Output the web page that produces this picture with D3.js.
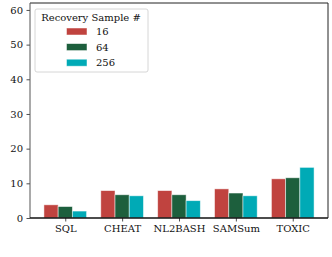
<!DOCTYPE html>
<html>
<head>
<meta charset="utf-8">
<script src="https://cdn.jsdelivr.net/npm/d3@7"></script>
<style>
  body { margin: 0; background: #fff; }
  text { font-family: 'DejaVu Serif', serif; }
</style>
</head>
<body>
<div id="chart"></div>
<script>
const categories = ["SQL", "CHEAT", "NL2BASH", "SAMSum", "TOXIC"];
const seriesNames = ["16", "64", "256"];
const values16 = [3.8, 7.9, 7.9, 8.4, 11.3];
const values64 = [3.3, 6.7, 6.7, 7.2, 11.6];
const values256 = [2.0, 6.4, 5.0, 6.4, 14.6];
const yTicks = [0, 10, 20, 30, 40, 50, 60];
const colors = ["#c0433f", "#1d5f3d", "#00aab6"];

const series = [values16, values64, values256];

const width = 332, height = 257;
const margin = { left: 30, right: 4, top: 3, bottom: 39 };

const svg = d3.select("#chart").append("svg")
  .attr("width", width)
  .attr("height", height);

// numeric x like matplotlib: group i at i, bar width 0.25
const x = d3.scaleLinear()
  .domain([-0.62, categories.length - 1 + 0.62])
  .range([margin.left, width - margin.right]);
const y = d3.scaleLinear()
  .domain([0, 62])
  .range([height - margin.bottom, margin.top]);

const barW = 0.25;

// bars
series.forEach(function(vals, s) {
  svg.append("g").selectAll("rect")
    .data(vals)
    .enter().append("rect")
    .attr("x", (d, i) => x(i + (s - 1) * barW - barW / 2))
    .attr("width", x(barW) - x(0))
    .attr("y", d => y(d))
    .attr("height", d => y(0) - y(d))
    .style("fill", colors[s])
    .style("stroke", "#fff")
    .style("stroke-opacity", 0.6)
    .style("stroke-width", 0.8);
});

// axes
const xAxis = d3.axisBottom(x)
  .tickValues(d3.range(categories.length))
  .tickFormat(i => categories[i])
  .tickSize(3.5)
  .tickPadding(3.5);
const yAxis = d3.axisLeft(y)
  .tickValues(yTicks)
  .tickSize(3.5)
  .tickPadding(3.5);

const gx = svg.append("g")
  .attr("transform", "translate(0," + y(0) + ")")
  .call(xAxis);
const gy = svg.append("g")
  .attr("transform", "translate(" + margin.left + ",0)")
  .call(yAxis);

[gx, gy].forEach(g => {
  g.attr("font-family", null);
  g.select(".domain").remove();
  g.selectAll("text").style("font-size", "10px").style("fill", "#111");
  g.selectAll("line").style("stroke", "#222").style("stroke-width", 0.8);
});

// frame
const x0 = margin.left, x1 = width - margin.right;
const y0 = margin.top, y1 = height - margin.bottom;
svg.append("line").attr("x1", x0).attr("x2", x1).attr("y1", y0).attr("y2", y0)
  .style("stroke", "#222").style("stroke-width", 1);
svg.append("line").attr("x1", x1).attr("x2", x1).attr("y1", y0).attr("y2", y1)
  .style("stroke", "#222").style("stroke-width", 1);
svg.append("line").attr("x1", x0).attr("x2", x0).attr("y1", y0).attr("y2", y1)
  .style("stroke", "#555").style("stroke-width", 1);
svg.append("line").attr("x1", x0).attr("x2", x1).attr("y1", y1).attr("y2", y1)
  .style("stroke", "#111").style("stroke-width", 1.3);

// legend
const lg = svg.append("g");
lg.append("rect")
  .attr("x", 35).attr("y", 9)
  .attr("width", 113).attr("height", 63)
  .attr("rx", 2)
  .style("fill", "#fff").style("fill-opacity", 0.8)
  .style("stroke", "#ccc").style("stroke-width", 0.8);
lg.append("text")
  .attr("x", 91).attr("y", 20.5)
  .attr("text-anchor", "middle")
  .style("font-size", "10px").style("fill", "#111")
  .text("Recovery Sample #");
seriesNames.forEach(function(name, s) {
  const cy = 31.5 + s * 15.6;
  lg.append("rect")
    .attr("x", 66.5).attr("y", cy - 3.5)
    .attr("width", 20.5).attr("height", 7)
    .style("fill", colors[s])
    .style("stroke", "#fff").style("stroke-opacity", 0.6).style("stroke-width", 0.8);
  lg.append("text")
    .attr("x", 96).attr("y", cy + 3.6)
    .style("font-size", "10px").style("fill", "#111")
    .text(name);
});
</script>
</body>
</html>
